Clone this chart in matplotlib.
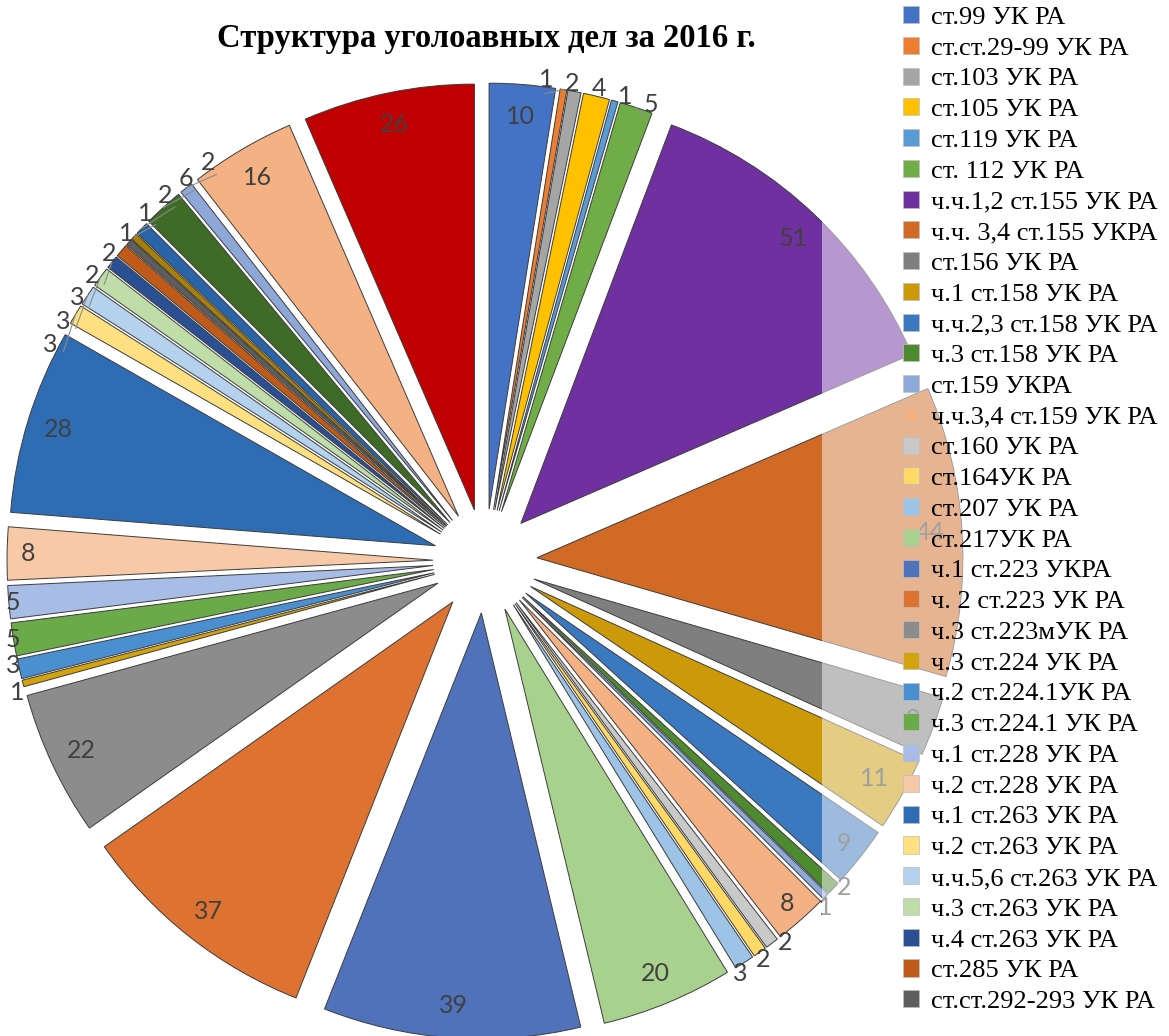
import numpy as np
import matplotlib.pyplot as plt
from matplotlib.patches import Patch, Rectangle

title = 'Структура уголоавных дел за 2016 г.'

# legend shows only the first 33 categories
names = ['ст.99 УК РА', 'ст.ст.29-99 УК РА', 'ст.103 УК РА', 'ст.105 УК РА',
         'ст.119 УК РА', 'ст. 112 УК РА', 'ч.ч.1,2 ст.155 УК РА',
         'ч.ч. 3,4 ст.155 УКРА', 'ст.156 УК РА', 'ч.1 ст.158 УК РА',
         'ч.ч.2,3 ст.158 УК РА', 'ч.3 ст.158 УК РА', 'ст.159 УКРА',
         'ч.ч.3,4 ст.159 УК РА', 'ст.160 УК РА', 'ст.164УК РА', 'ст.207 УК РА',
         'ст.217УК РА', 'ч.1 ст.223 УКРА', 'ч. 2 ст.223 УК РА',
         'ч.3 ст.223мУК РА', 'ч.3 ст.224 УК РА', 'ч.2 ст.224.1УК РА',
         'ч.3 ст.224.1 УК РА', 'ч.1 ст.228 УК РА', 'ч.2 ст.228 УК РА',
         'ч.1 ст.263 УК РА', 'ч.2 ст.263 УК РА', 'ч.ч.5,6 ст.263 УК РА',
         'ч.3 ст.263 УК РА', 'ч.4 ст.263 УК РА', 'ст.285 УК РА',
         'ст.ст.292-293 УК РА']

values = [10, 1, 2, 4, 1, 5, 51, 44, 9, 11, 9, 2, 1, 8, 2, 2, 3, 20,
          39, 37, 22, 1, 3, 5, 5, 8, 28, 3, 3,
          3, 2, 2, 1, 1, 2, 6, 2, 16, 26]

colors = ['#4472C4', '#ED7D31', '#A5A5A5', '#FFC000', '#5B9BD5', '#70AD47',
          '#7030A0', '#D06A24', '#7F7F7F', '#CC9A08', '#3A78C0', '#4E8A30',
          '#8EAADB', '#F4B183', '#C9C9C9', '#FFD966', '#9DC3E6', '#A9D18E',
          '#4F72BA', '#DE7230', '#8C8C8C', '#D4A20C', '#4A90D0', '#6AAA48',
          '#A8BDE6', '#F8C9A6', '#2E6DB4', '#FFE080', '#B4D2EE', '#BEDDA8',
          '#2B4F93', '#C05A18', '#5E5E5E', '#A88008', '#2A64A8', '#3E6B26',
          '#8DA8D8', '#F4B183', '#C00000']

W, H = 1169, 1036
cx, cy, rpx = 485, 561, 426      # pie centre and radius in pixels
expl = 0.122

fig = plt.figure(figsize=(W / 100, H / 100), dpi=100)
ax = fig.add_axes([0, 0, 1, 1])

wedges, _ = ax.pie(values, colors=colors, startangle=90, counterclock=False,
                   explode=[expl] * len(values), radius=1,
                   wedgeprops=dict(edgecolor='#3c3c3c', linewidth=0.7))
ax.set_aspect('auto')
xmin, xmax = -cx / rpx, (W - cx) / rpx
ax.set_xlim(xmin, xmax)
ax.set_ylim(-(H - cy) / rpx, cy / rpx)
ax.axis('off')

lab_font = dict(family='Lato', size=18, color='#404040')

# clockwise-from-top angle of each wedge middle
mids = [90 - (w.theta1 + w.theta2) / 2 for w in wedges]

for w, v, m in zip(wedges, values, mids):
    if v >= 8:
        t = np.deg2rad(90 - m)
        pct = 0.925 if v >= 10 else 0.95
        x = w.center[0] + pct * np.cos(t)
        y = w.center[1] + pct * np.sin(t)
        ax.text(x, y, str(v), ha='center', va='center', **lab_font)

# small slices: labels outside, spread apart
small = [i for i, v in enumerate(values) if v < 8]
groups = []
for i in small:
    if groups and groups[-1][-1] == i - 1:
        groups[-1].append(i)
    else:
        groups.append([i])

sep = 3.2
r_out = 1.14
for g in groups:
    a = [mids[i] for i in g]
    for _ in range(400):
        for k in range(len(a) - 1):
            d = a[k + 1] - a[k]
            if d < sep:
                a[k] -= (sep - d) / 2
                a[k + 1] += (sep - d) / 2
    for i, ang in zip(g, a):
        t = np.deg2rad(90 - ang)
        x, y = r_out * np.cos(t), r_out * np.sin(t)
        x = max(x, xmin + 0.03)
        ax.text(x, y, str(values[i]), ha='center', va='center', **lab_font)
        if abs(ang - mids[i]) > 1.5:
            tm = np.deg2rad(90 - mids[i])
            w = wedges[i]
            x0 = w.center[0] + np.cos(tm)
            y0 = w.center[1] + np.sin(tm)
            x1, y1 = (r_out - 0.035) * np.cos(t), (r_out - 0.035) * np.sin(t)
            ax.plot([x0, x1], [y0, y1], color='#8c8c8c', lw=0.8)

# semi-transparent legend area over the right part of the pie
ov = Rectangle((822 / W, 1 - 1000 / H), (W - 822) / W, (1000 - 15) / H,
               transform=fig.transFigure, facecolor='white', alpha=0.5,
               edgecolor='none', zorder=3)
fig.add_artist(ov)

handles = [Patch(facecolor=c, edgecolor='#bfbfbf', linewidth=0.5)
           for c in colors[:len(names)]]
fig.legend(handles, names, loc='upper left',
           bbox_to_anchor=(903 / W, 1 - 6 / H), frameon=False,
           prop={'family': 'Liberation Serif', 'size': 19},
           handlelength=0.62, handleheight=0.62, handletextpad=0.45,
           labelspacing=0.3, borderaxespad=0, borderpad=0)

fig.text(486 / W, 1 - 39 / H, title, ha='center', va='center',
         family='Liberation Serif', weight='bold', size=23.5)

fig.savefig('out.png', dpi=100)
